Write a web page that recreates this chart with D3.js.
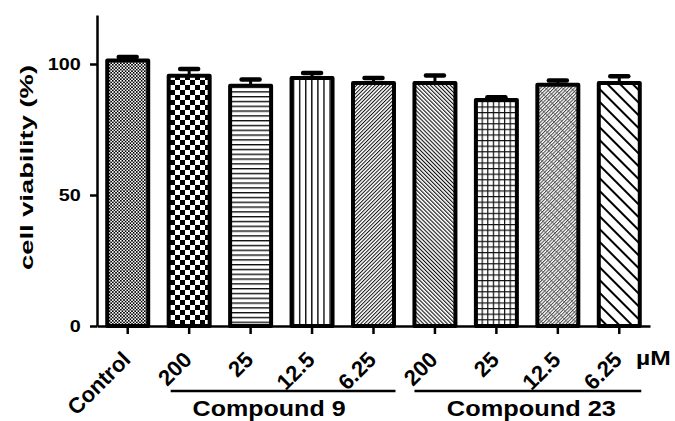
<!DOCTYPE html>
<html><head><meta charset="utf-8">
<script src="https://cdn.jsdelivr.net/npm/d3@7/dist/d3.min.js"></script>
<style>body{margin:0;background:#fff}svg{display:block}text{font-family:"Liberation Sans",Arial,sans-serif;font-weight:bold;fill:#000}</style>
</head><body><svg id="c" width="675" height="421"></svg>
<script>
const keys = ["ctrl","c9_200","c9_25","c9_12.5","c9_6.25","c23_200","c23_25","c23_12.5","c23_6.25"];
const tickLabels = ["Control","200","25","12.5","6.25","200","25","12.5","6.25"];
const values = [101.3, 95.5, 91.7, 94.7, 92.7, 92.7, 86.3, 92.1, 92.7];
const errors = [1.4, 2.6, 2.4, 1.9, 2.0, 2.9, 1.0, 1.6, 2.6];
const yTicks = [0, 50, 100];
const groupNames = ["Compound 9", "Compound 23"];
const groupFirst = [1, 5];
const groupLast = [4, 8];
const unitLabel = "µM";
const yTitle = "cell  viability (%)";

const svg = d3.select("#c");
svg.append("rect").attr("width",675).attr("height",421).attr("fill","#fff");
const defs = svg.append("defs");
function pat(id, w, h, tr){
  const p = defs.append("pattern").attr("id",id).attr("patternUnits","userSpaceOnUse")
    .attr("width",w).attr("height",h);
  if(tr) p.attr("patternTransform",tr);
  p.append("rect").attr("width",w).attr("height",h).attr("fill","#fff");
  return p;
}
let p;
p = pat("p0",3.2,3.2); p.append("rect").attr("width",1.6).attr("height",1.6).attr("fill","#000");
p.append("rect").attr("x",1.6).attr("y",1.6).attr("width",1.6).attr("height",1.6).attr("fill","#000");
p = pat("p1",10,10); p.append("rect").attr("width",5).attr("height",5).attr("fill","#000");
p.append("rect").attr("x",5).attr("y",5).attr("width",5).attr("height",5).attr("fill","#000");
p = pat("p2",10,4.8); p.append("rect").attr("width",10).attr("height",1.4).attr("fill","#111");
p = pat("p3",6.1,10); p.append("rect").attr("width",1.4).attr("height",10).attr("fill","#111");
p = pat("p4",2.6,10,"rotate(45)"); p.append("rect").attr("width",1).attr("height",10).attr("fill","#111");
p = pat("p5",2.8,10,"rotate(-45)"); p.append("rect").attr("width",1.1).attr("height",10).attr("fill","#111");
p = pat("p6",5.6,5.6); p.append("rect").attr("width",5.6).attr("height",1.2).attr("fill","#111");
p.append("rect").attr("width",1.2).attr("height",5.6).attr("fill","#111");
p = pat("p7",2.4,6,"rotate(45)"); p.append("rect").attr("width",1.0).attr("height",6).attr("fill","#444");
p.append("rect").attr("x",1.0).attr("y",0).attr("width",1.4).attr("height",1).attr("fill","#888");
p = pat("p8",9,10,"rotate(-45)"); p.append("rect").attr("width",2).attr("height",10).attr("fill","#000");
const patIds = ["p0","p1","p2","p3","p4","p5","p6","p7","p8"];

const x = d3.scaleBand().domain(keys).range([97,650]).paddingInner(0.333).paddingOuter(0.1665);
const y = d3.scaleLinear().domain([0,118.7]).range([326,15]);

// bars
svg.append("g").selectAll("rect").data(keys).join("rect")
  .attr("x",d=>x(d)).attr("width",x.bandwidth())
  .attr("y",(d,i)=>y(values[i])).attr("height",(d,i)=>y(0)-y(values[i]))
  .attr("fill",(d,i)=>"url(#"+patIds[i]+")")
  .attr("stroke","#000").attr("stroke-width",4).attr("stroke-linejoin","round");

// error bars
const eg = svg.append("g");
keys.forEach((k,i)=>{
  const cx = x(k)+x.bandwidth()/2;
  eg.append("line").attr("x1",cx).attr("x2",cx).attr("y1",y(values[i])).attr("y2",y(values[i]+errors[i]))
    .attr("stroke","#000").attr("stroke-width",3);
  eg.append("line").attr("x1",cx-9).attr("x2",cx+9).attr("y1",y(values[i]+errors[i])).attr("y2",y(values[i]+errors[i]))
    .attr("stroke","#000").attr("stroke-width",4.5).attr("stroke-linecap","round");
});

// axes
const ya = svg.append("g").attr("transform","translate(97,0)")
  .call(d3.axisLeft(y).tickValues(yTicks).tickSize(7).tickSizeOuter(0).tickPadding(0));
ya.select(".domain").attr("stroke-width",2.5);
ya.selectAll(".tick line").attr("stroke-width",2.5);
ya.selectAll(".tick text").attr("x",-13.5).attr("dy","0.36em").attr("transform","scale(1.2,1)")
  .style("font-size","16.5px").style("font-family","'Liberation Sans',Arial,sans-serif").style("font-weight","bold");

const xa = svg.append("g").attr("transform","translate(0,326)")
  .call(d3.axisBottom(x).tickSize(8).tickSizeOuter(0).tickFormat(""));
xa.select(".domain").attr("stroke-width",2.5);
xa.selectAll(".tick line").attr("stroke-width",2.5);

// x tick labels
svg.append("g").selectAll("text").data(keys).join("text")
  .attr("text-anchor","end").style("font-size","22px")
  .attr("transform",d=>`translate(${x(d)+x.bandwidth()/2+4},361) rotate(-45)`)
  .text((d,i)=>tickLabels[i]);

// unit
svg.append("text").attr("transform","translate(636,365) scale(1.2,1)").style("font-size","20.5px").text(unitLabel);

// groups
const labelLen = [153, 169];
const labelShift = [-14, 3.5];
groupNames.forEach((g,i)=>{
  const x1 = x(keys[groupFirst[i]]) + (i===0?2:0);
  const x2 = x(keys[groupLast[i]]) + x.bandwidth() + 1.5;
  svg.append("line").attr("x1",x1).attr("x2",x2).attr("y1",391).attr("y2",391)
    .attr("stroke","#000").attr("stroke-width",2.5);
  svg.append("text").attr("x",(x1+x2)/2+labelShift[i]).attr("y",415.5).attr("text-anchor","middle")
    .attr("textLength",labelLen[i]).attr("lengthAdjust","spacingAndGlyphs")
    .style("font-size","22px").text(g);
});

// y title
svg.append("text").attr("transform","translate(33,167.5) rotate(-90)").attr("text-anchor","middle")
  .attr("textLength",205).attr("lengthAdjust","spacingAndGlyphs")
  .style("font-size","19px").text(yTitle);
</script></body></html>
